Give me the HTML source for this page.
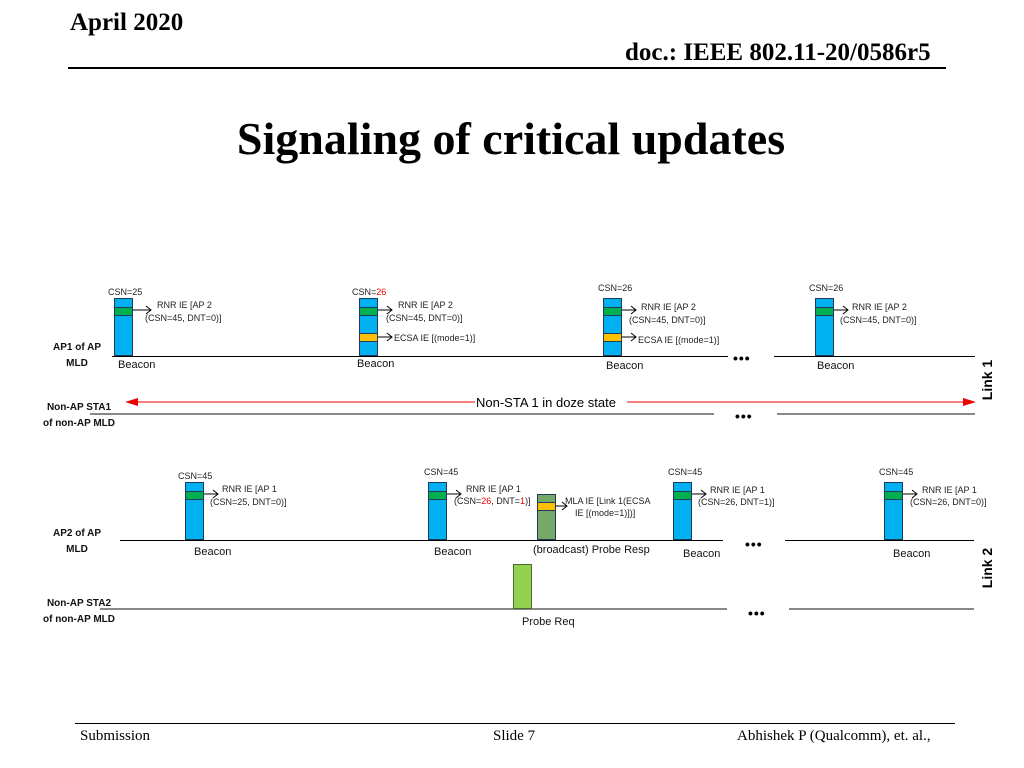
<!DOCTYPE html>
<html><head><meta charset="utf-8"><style>
body{margin:0;width:1024px;height:768px;background:#fff;position:relative;overflow:hidden;font-family:"Liberation Sans",sans-serif}
.a{position:absolute}
.t{position:absolute;font-family:"Liberation Sans",sans-serif;font-size:9px;color:#222;white-space:nowrap;line-height:10px}
.b{position:absolute;font-size:11px;color:#111;white-space:nowrap}
.bx{position:absolute;background:#00b0f0;border:1px solid #1f3b5a;box-sizing:border-box}
.g{position:absolute;background:#00b050;border:1px solid #1f3b5a;box-sizing:border-box;left:-1px;right:-1px;height:9px}
.y{position:absolute;background:#ffc000;border:1px solid #1f3b5a;box-sizing:border-box;left:-1px;right:-1px;height:9px}
.ln{position:absolute;height:1px;background:#000}
.gl{position:absolute;height:2px;background:#888}
.lbl{position:absolute;font-weight:bold;font-size:10px;text-align:center;line-height:16px;color:#111;white-space:nowrap}
.dots{position:absolute;font-size:14px;font-weight:bold;letter-spacing:1px}
.red{color:#e00}
.lk{position:absolute;transform:rotate(-90deg);transform-origin:center;font-weight:bold;font-size:14px;width:60px;text-align:center;white-space:nowrap}
</style></head><body>
<div class="a" style="left:70px;top:9px;font-family:'Liberation Serif',serif;font-weight:bold;font-size:25px">April 2020</div>
<div class="a" style="left:625px;top:39px;font-family:'Liberation Serif',serif;font-weight:bold;font-size:25px">doc.: IEEE 802.11-20/0586r5</div>
<div class="a" style="left:68px;top:67px;width:878px;height:2px;background:#000"></div>
<div class="a" style="left:0;width:1022px;top:112px;text-align:center;font-family:'Liberation Serif',serif;font-weight:bold;font-size:46px">Signaling of critical updates</div>

<svg class="a" style="left:0;top:0" width="1024" height="768">
<g stroke="#000" fill="none" stroke-width="1">
<path d="M132 310H151M146 306L151 310L146 314"/>
<path d="M377 310H392M387 306L392 310L387 314"/>
<path d="M377 337H392M387 333L392 337L387 341"/>
<path d="M621 310H636M631 306L636 310L631 314"/>
<path d="M621 337H636M631 333L636 337L631 341"/>
<path d="M833 310H848M843 306L848 310L843 314"/>
<path d="M203 494H218M213 490L218 494L213 498"/>
<path d="M446 494H461M456 490L461 494L456 498"/>
<path d="M555 506H567M562 502L567 506L562 510"/>
<path d="M691 494H706M701 490L706 494L701 498"/>
<path d="M902 494H917M912 490L917 494L912 498"/>
</g>
<line x1="132" y1="402" x2="475" y2="402" stroke="#e00" stroke-width="1"/>
<line x1="627" y1="402" x2="966" y2="402" stroke="#e00" stroke-width="1"/>
<path d="M125 402L138 398L138 406Z" fill="#e00"/>
<path d="M976 402L963 398L963 406Z" fill="#e00"/>
</svg>

<div class="lbl" style="left:37px;top:340px;width:80px">AP1 of AP<br>MLD</div>
<div class="ln" style="left:112px;top:356px;width:616px"></div>
<div class="ln" style="left:774px;top:356px;width:201px"></div>
<div class="bx" style="left:114px;top:298px;width:19px;height:58px"><div class="g" style="top:8px"></div></div>
<div class="bx" style="left:359px;top:298px;width:19px;height:58px"><div class="g" style="top:8px"></div><div class="y" style="top:34px"></div></div>
<div class="bx" style="left:603px;top:298px;width:19px;height:58px"><div class="g" style="top:8px"></div><div class="y" style="top:34px"></div></div>
<div class="bx" style="left:815px;top:298px;width:19px;height:58px"><div class="g" style="top:8px"></div></div>
<div class="t" style="left:108px;top:287px">CSN=25</div>
<div class="t" style="left:352px;top:287px">CSN=<span class="red">26</span></div>
<div class="t" style="left:598px;top:283px">CSN=26</div>
<div class="t" style="left:809px;top:283px">CSN=26</div>
<div class="t" style="left:157px;top:300px">RNR IE [AP 2</div><div class="t" style="left:145px;top:313px">(CSN=45, DNT=0)]</div>
<div class="t" style="left:398px;top:300px">RNR IE [AP 2</div><div class="t" style="left:386px;top:313px">(CSN=45, DNT=0)]</div>
<div class="t" style="left:394px;top:333px">ECSA IE [(mode=1)]</div>
<div class="t" style="left:641px;top:302px">RNR IE [AP 2</div><div class="t" style="left:629px;top:315px">(CSN=45, DNT=0)]</div>
<div class="t" style="left:638px;top:335px">ECSA IE [(mode=1)]</div>
<div class="t" style="left:852px;top:302px">RNR IE [AP 2</div><div class="t" style="left:840px;top:315px">(CSN=45, DNT=0)]</div>
<div class="b" style="left:118px;top:359px">Beacon</div>
<div class="b" style="left:357px;top:358px">Beacon</div>
<div class="b" style="left:606px;top:360px">Beacon</div>
<div class="b" style="left:817px;top:360px">Beacon</div>
<div class="dots" style="left:733px;top:350px">•••</div>
<div class="lk" style="left:957px;top:372px">Link 1</div>

<div class="lbl" style="left:29px;top:400px;width:100px">Non-AP STA1<br>of non-AP MLD</div>
<div class="gl" style="left:90px;top:413px;width:624px"></div>
<div class="gl" style="left:777px;top:413px;width:198px"></div>
<div class="a" style="left:476px;top:395px;font-size:13px">Non-STA 1 in doze state</div>
<div class="dots" style="left:735px;top:408px">•••</div>

<div class="lbl" style="left:37px;top:526px;width:80px">AP2 of AP<br>MLD</div>
<div class="ln" style="left:120px;top:540px;width:603px"></div>
<div class="ln" style="left:785px;top:540px;width:189px"></div>
<div class="bx" style="left:185px;top:482px;width:19px;height:58px"><div class="g" style="top:8px"></div></div>
<div class="bx" style="left:428px;top:482px;width:19px;height:58px"><div class="g" style="top:8px"></div></div>
<div class="bx" style="left:673px;top:482px;width:19px;height:58px"><div class="g" style="top:8px"></div></div>
<div class="bx" style="left:884px;top:482px;width:19px;height:58px"><div class="g" style="top:8px"></div></div>
<div class="bx" style="left:537px;top:494px;width:19px;height:46px;background:#76a86a"><div class="y" style="top:7px"></div></div>
<div class="t" style="left:178px;top:471px">CSN=45</div>
<div class="t" style="left:424px;top:467px">CSN=45</div>
<div class="t" style="left:668px;top:467px">CSN=45</div>
<div class="t" style="left:879px;top:467px">CSN=45</div>
<div class="t" style="left:222px;top:484px">RNR IE [AP 1</div><div class="t" style="left:210px;top:497px">(CSN=25, DNT=0)]</div>
<div class="t" style="left:466px;top:484px">RNR IE [AP 1</div><div class="t" style="left:454px;top:496px">(CSN=<span class="red">26</span>, DNT=<span class="red">1</span>)]</div>
<div class="t" style="left:565px;top:496px">MLA IE [Link 1(ECSA</div><div class="t" style="left:575px;top:508px">IE [(mode=1)])]</div>
<div class="t" style="left:710px;top:485px">RNR IE [AP 1</div><div class="t" style="left:698px;top:497px">(CSN=26, DNT=1)]</div>
<div class="t" style="left:922px;top:485px">RNR IE [AP 1</div><div class="t" style="left:910px;top:497px">(CSN=26, DNT=0)]</div>
<div class="b" style="left:194px;top:546px">Beacon</div>
<div class="b" style="left:434px;top:546px">Beacon</div>
<div class="b" style="left:533px;top:544px">(broadcast) Probe Resp</div>
<div class="b" style="left:683px;top:548px">Beacon</div>
<div class="b" style="left:893px;top:548px">Beacon</div>
<div class="dots" style="left:745px;top:536px">•••</div>
<div class="lk" style="left:957px;top:560px">Link 2</div>

<div class="lbl" style="left:29px;top:596px;width:100px">Non-AP STA2<br>of non-AP MLD</div>
<div class="gl" style="left:100px;top:608px;width:627px"></div>
<div class="gl" style="left:789px;top:608px;width:185px"></div>
<div class="bx" style="left:513px;top:564px;width:19px;height:45px;background:#92d050;border-color:#4a6a30"></div>
<div class="b" style="left:522px;top:616px">Probe Req</div>
<div class="dots" style="left:748px;top:605px">•••</div>

<div class="a" style="left:75px;top:723px;width:880px;height:1px;background:#000"></div>
<div class="a" style="left:80px;top:728px;font-family:'Liberation Serif',serif;font-size:15px">Submission</div>
<div class="a" style="left:493px;top:728px;font-family:'Liberation Serif',serif;font-size:15px">Slide 7</div>
<div class="a" style="left:737px;top:728px;font-family:'Liberation Serif',serif;font-size:15px">Abhishek P (Qualcomm), et. al.,</div>
</body></html>
